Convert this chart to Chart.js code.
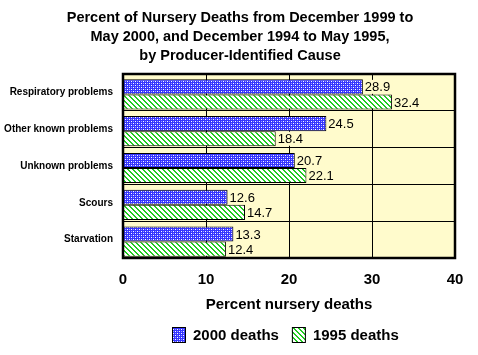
<!DOCTYPE html>
<html><head><meta charset="utf-8">
<script src="https://cdn.jsdelivr.net/npm/chart.js@4/dist/chart.umd.min.js"></script>
<style>html,body{margin:0;padding:0;background:#fff}#wrap{width:478px;height:355px}</style>
</head><body><div id="wrap"><canvas id="c" width="478" height="355"></canvas></div>
<script>
const categories = ["Respiratory problems","Other known problems","Unknown problems","Scours","Starvation"];
const deaths2000 = [28.9, 24.5, 20.7, 12.6, 13.3];
const deaths1995 = [32.4, 18.4, 22.1, 14.7, 12.4];
const seriesNames = ["2000 deaths","1995 deaths"];
const xTicks = [0,10,20,30,40];
const titleLines = ["Percent of Nursery Deaths from December 1999 to","May 2000, and December 1994 to May 1995,","by Producer-Identified Cause"];
const FONT='"Liberation Sans", Arial, sans-serif';
const BG='#fffbcc';

function bluePattern(){
  const c=document.createElement('canvas');c.width=4;c.height=4;const g=c.getContext('2d');
  g.fillStyle='#3535ff';g.fillRect(0,0,4,4);
  g.fillStyle='#ffffff';g.fillRect(1,1,1,1);g.fillRect(3,3,1,1);
  g.fillStyle='#a0a0ff';g.fillRect(3,1,1,1);g.fillRect(1,3,1,1);
  return g.createPattern(c,'repeat');
}
function greenPattern(){
  const n=5;const c=document.createElement('canvas');c.width=n;c.height=n;const g=c.getContext('2d');
  g.fillStyle='#ffffff';g.fillRect(0,0,n,n);
  g.fillStyle='#22cc22';
  for(let i=0;i<n;i++){g.fillRect(i,i,1,1);g.fillRect((i+1)%n,i,1,1);}
  return g.createPattern(c,'repeat');
}
const pb=bluePattern(), pg=greenPattern();

const deco={id:'deco',
  beforeDraw(ch){const a=ch.chartArea,x=ch.ctx;x.save();x.fillStyle=BG;x.fillRect(a.left,a.top,a.right-a.left,a.bottom-a.top);x.restore();},
  beforeDatasetsDraw(ch){ch.ctx.save();ch.ctx.translate(0,2);},
  afterDatasetsDraw(ch){const x=ch.ctx;x.save();x.font='13px '+FONT;x.textBaseline='middle';
    ch.data.datasets.forEach((ds,i)=>{ch.getDatasetMeta(i).data.forEach((el,j)=>{const t=ds.data[j].toFixed(1);const w=x.measureText(t).width;
      x.fillStyle=BG;x.fillRect(el.x+1,el.y-7,w+3,14);x.fillStyle='#000';x.fillText(t,el.x+2,el.y+1);});});
    x.restore();x.restore();},
  afterDraw(ch){const a=ch.chartArea,x=ch.ctx;x.save();x.strokeStyle='#000';x.lineWidth=2.5;x.strokeRect(a.left,a.top,a.right-a.left,a.bottom-a.top);
    x.fillStyle='#000';x.font='bold 14.5px '+FONT;x.textAlign='center';x.textBaseline='alphabetic';
    titleLines.forEach((t,i)=>x.fillText(t,240,22+i*19));
    x.font='bold 15px '+FONT;x.textAlign='left';x.textBaseline='middle';
    const cy=335;let lx=172;
    ch.data.datasets.forEach((d,i)=>{x.fillStyle=d.backgroundColor;x.fillRect(lx,cy-8,14,16);x.lineWidth=1;x.strokeStyle='#000';x.strokeRect(lx+0.5,cy-7.5,13,15);
      x.fillStyle='#000';x.fillText(d.label,lx+21,cy+1);lx+=21+x.measureText(d.label).width+13;});
    x.restore();}
};

new Chart(document.getElementById('c'),{
  type:'bar',
  data:{labels:categories,datasets:[
    {label:seriesNames[0],data:deaths2000,backgroundColor:pb,borderColor:'#000',borderWidth:1,barPercentage:1,categoryPercentage:0.82},
    {label:seriesNames[1],data:deaths1995,backgroundColor:pg,borderColor:'#000',borderWidth:1,barPercentage:1,categoryPercentage:0.82}
  ]},
  options:{indexAxis:'y',responsive:false,animation:false,devicePixelRatio:1,
    layout:{padding:{left:0,right:23,top:74,bottom:37}},
    plugins:{title:{display:false},legend:{display:false},tooltip:{enabled:false}},
    scales:{
      x:{min:0,max:40,afterBuildTicks(s){s.ticks=xTicks.map(v=>({value:v}));},
        afterFit(s){s.height=60;},
        grid:{color:'#000',lineWidth:1,drawTicks:false},border:{display:false},
        ticks:{color:'#000',padding:13,font:{family:FONT,size:15,weight:'bold'}},
        title:{display:true,text:'Percent nursery deaths',color:'#000',font:{family:FONT,size:15,weight:'bold'},padding:{top:4,bottom:4}}},
      y:{grid:{color:'#000',lineWidth:1,drawTicks:false,offset:true},border:{display:false},
        afterFit(s){s.width=123;},
        ticks:{color:'#000',padding:10,font:{family:FONT,size:10,weight:'bold'}}}
    }
  },
  plugins:[deco]
});
</script></body></html>
